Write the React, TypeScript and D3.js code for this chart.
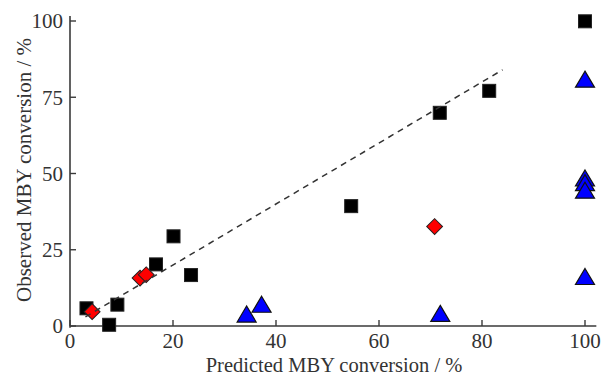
import React, { useEffect, useRef } from 'react';
import * as d3 from 'd3';

// predicted vs observed MBY conversion (%)
const squaresX = [3.2, 7.6, 9.2, 16.7, 20.1, 23.5, 54.6, 71.8, 81.4, 100];
const squaresY = [5.8, 0.4, 7.0, 20.2, 29.4, 16.7, 39.3, 69.9, 77.1, 99.9];
const diamondsX = [4.3, 13.6, 14.8, 70.8];
const diamondsY = [4.7, 15.7, 16.8, 32.6];
const trianglesX = [34.3, 37.2, 71.9, 100, 100, 100, 100, 100];
const trianglesY = [3.4, 6.6, 3.6, 15.7, 80.4, 48.0, 46.5, 44.0];
const parityLine = [3, 84];
const xTicks = [0, 20, 40, 60, 80, 100];
const yTicks = [0, 25, 50, 75, 100];

const W = 603;
const H = 376;

const App = () => {
  const svgRef = useRef<SVGSVGElement>(null);

  useEffect(() => {
    const svg = d3.select(svgRef.current);
    svg.selectAll('*').remove();

    const x = d3.scaleLinear().domain([0, 100]).range([70, 585]);
    const y = d3.scaleLinear().domain([0, 100]).range([326, 21]);
    const axisColor = '#3a3a3a';
    const font = '"Liberation Serif", "Times New Roman", serif';

    // axis lines
    svg.append('line')
      .attr('x1', x(0)).attr('x2', x(102.2))
      .attr('y1', y(0)).attr('y2', y(0))
      .attr('stroke', axisColor).attr('stroke-width', 1.6);
    svg.append('line')
      .attr('x1', x(0)).attr('x2', x(0))
      .attr('y1', y(-0.6)).attr('y2', y(101.6))
      .attr('stroke', axisColor).attr('stroke-width', 1.6);

    // ticks (inward)
    svg.selectAll('.xtick')
      .data(xTicks)
      .enter()
      .append('line')
      .attr('x1', d => x(d)).attr('x2', d => x(d))
      .attr('y1', y(0)).attr('y2', y(0) - 6)
      .attr('stroke', axisColor).attr('stroke-width', 1.4);
    svg.selectAll('.ytick')
      .data(yTicks)
      .enter()
      .append('line')
      .attr('x1', x(0)).attr('x2', x(0) + 6)
      .attr('y1', d => y(d)).attr('y2', d => y(d))
      .attr('stroke', axisColor).attr('stroke-width', 1.4);

    svg.selectAll('.xlabel')
      .data(xTicks)
      .enter()
      .append('text')
      .attr('x', d => x(d))
      .attr('y', 347.5)
      .attr('text-anchor', 'middle')
      .style('font-family', font)
      .style('font-size', '21px')
      .style('fill', '#333')
      .text(d => d);
    svg.selectAll('.ylabel')
      .data(yTicks)
      .enter()
      .append('text')
      .attr('x', 63)
      .attr('y', d => y(d))
      .attr('dy', '0.35em')
      .attr('text-anchor', 'end')
      .style('font-family', font)
      .style('font-size', '21px')
      .style('fill', '#333')
      .text(d => d);

    // axis titles
    svg.append('text')
      .attr('x', 334)
      .attr('y', 371.5)
      .attr('text-anchor', 'middle')
      .style('font-family', font)
      .style('font-size', '20.5px')
      .style('fill', '#333')
      .text('Predicted MBY conversion / %');
    svg.append('text')
      .attr('transform', 'translate(31, 170) rotate(-90)')
      .attr('text-anchor', 'middle')
      .style('font-family', font)
      .style('font-size', '21px')
      .style('fill', '#333')
      .text('Observed MBY conversion / %');

    // markers
    const sq = 13;
    svg.selectAll('.sq')
      .data(squaresX.map((d, i) => [d, squaresY[i]]))
      .enter()
      .append('rect')
      .attr('x', d => x(d[0]) - sq / 2)
      .attr('y', d => y(d[1]) - sq / 2)
      .attr('width', sq).attr('height', sq)
      .attr('fill', '#000')
      .attr('stroke', '#222').attr('stroke-width', 1);

    const diamond = d3.symbol().type(d3.symbolSquare).size(125);
    svg.selectAll('.dm')
      .data(diamondsX.map((d, i) => [d, diamondsY[i]]))
      .enter()
      .append('path')
      .attr('d', diamond)
      .attr('transform', d => `translate(${x(d[0])},${y(d[1])}) rotate(45)`)
      .attr('fill', '#ff0000')
      .attr('stroke', '#222').attr('stroke-width', 1);

    const tri = (cx: number, cy: number) => {
      const w = 19, h = 16;
      return `M${cx},${cy - h * 0.6}L${cx + w / 2},${cy + h * 0.4}L${cx - w / 2},${cy + h * 0.4}Z`;
    };
    svg.selectAll('.tr')
      .data(trianglesX.map((d, i) => [d, trianglesY[i]]))
      .enter()
      .append('path')
      .attr('d', d => tri(x(d[0]), y(d[1])))
      .attr('fill', '#0000ff')
      .attr('stroke', '#111').attr('stroke-width', 1.2);

    // parity line
    svg.append('line')
      .attr('x1', x(parityLine[0])).attr('y1', y(parityLine[0]))
      .attr('x2', x(parityLine[1])).attr('y2', y(parityLine[1]))
      .attr('stroke', '#333')
      .attr('stroke-width', 1.5)
      .attr('stroke-dasharray', '6,5');
  }, []);

  return (
    <svg
      ref={svgRef}
      width={W}
      height={H}
      style={{ position: 'absolute', left: 0, top: 0, background: '#fff' }}
    />
  );
};

export default App;
